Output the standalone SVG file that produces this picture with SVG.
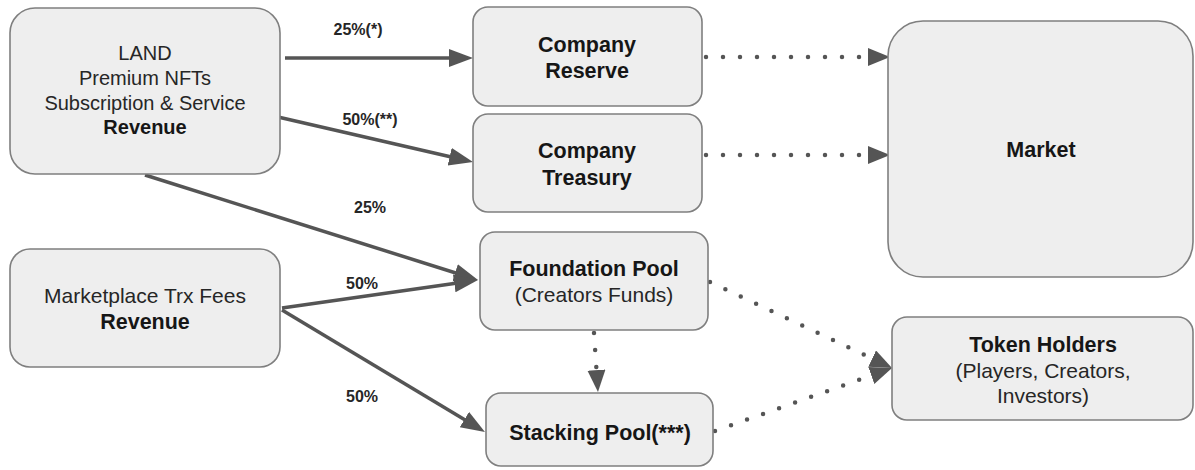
<svg xmlns="http://www.w3.org/2000/svg" width="1195" height="470" viewBox="0 0 1195 470">
<style>
.box{fill:#eeeeee;stroke:#7f7f7f;stroke-width:1.6}
.t{font-family:"Liberation Sans",Arial,sans-serif;font-size:21px;fill:#262626;text-anchor:middle}
.s{font-size:20px}
.b{font-weight:bold;fill:#161616;font-size:21.5px}
.lbl{font-family:"Liberation Sans",Arial,sans-serif;font-size:16px;font-weight:bold;fill:#262626;text-anchor:middle}
.solid{fill:none;stroke:#555555;stroke-width:3.5;marker-end:url(#ah)}
.dot{fill:none;stroke:#555555;stroke-width:4.5;stroke-linecap:round;stroke-dasharray:0 17;marker-end:url(#ah2)}
</style>
<defs>
<marker id="ah" markerUnits="userSpaceOnUse" markerWidth="26" markerHeight="20" refX="14" refY="9" orient="auto"><path d="M0,0 L24,9 L0,18 z" fill="#555555"/></marker>
<marker id="ah2" markerUnits="userSpaceOnUse" markerWidth="24" markerHeight="20" refX="12" refY="9" orient="auto"><path d="M0,0 L22,9 L0,18 z" fill="#555555"/></marker>
</defs>
<g id="connectors">
<path class="solid" d="M285,58 L463,58"/>
<path class="solid" d="M278,117 L463.3,159.8"/>
<path class="solid" d="M145,175 L468.5,277"/>
<path class="solid" d="M282,308 L468.1,281.4"/>
<path class="solid" d="M282,310 L476.4,426.8"/>
<path class="dot" d="M706,57 L880,57"/>
<path class="dot" d="M706,155 L880,155"/>
<path class="dot" d="M710,282 L883,363.7"/>
<path class="dot" d="M715,431 L882.6,371.4"/>
<path class="dot" d="M594,333 L597.3,382"/>
<text class="lbl" x="358" y="35">25%(*)</text>
<text class="lbl" x="370" y="125">50%(**)</text>
<text class="lbl" x="370" y="213">25%</text>
<text class="lbl" x="362" y="289">50%</text>
<text class="lbl" x="362" y="402">50%</text>
</g>
<g id="land">
<rect class="box" x="10" y="8" width="270" height="166" rx="25"/>
<text class="t s" x="145" y="60">LAND</text>
<text class="t s" x="145" y="85">Premium NFTs</text>
<text class="t s" x="145" y="110">Subscription &amp; Service</text>
<text class="t s b" x="145" y="134" style="font-size:20px">Revenue</text>
</g>
<g id="marketplace">
<rect class="box" x="10" y="249" width="270" height="118" rx="20"/>
<text class="t" x="145" y="303">Marketplace Trx Fees</text>
<text class="t b" x="145" y="329">Revenue</text>
</g>
<g id="reserve">
<rect class="box" x="473" y="7" width="229" height="99" rx="15"/>
<text class="t b" x="587" y="52">Company</text>
<text class="t b" x="587" y="78">Reserve</text>
</g>
<g id="treasury">
<rect class="box" x="473" y="114" width="229" height="98" rx="15"/>
<text class="t b" x="587" y="158">Company</text>
<text class="t b" x="587" y="185">Treasury</text>
</g>
<g id="foundation">
<rect class="box" x="480" y="232" width="228" height="98" rx="15"/>
<text class="t b" x="594" y="276">Foundation Pool</text>
<text class="t" x="594" y="302">(Creators Funds)</text>
</g>
<g id="stacking">
<rect class="box" x="486" y="393" width="227" height="73" rx="15"/>
<text class="t b" x="600" y="440">Stacking Pool(***)</text>
</g>
<g id="market">
<rect class="box" x="888" y="21" width="305" height="256" rx="35"/>
<text class="t b" x="1041" y="157">Market</text>
</g>
<g id="tokenholders">
<rect class="box" x="892" y="317" width="301" height="103" rx="15"/>
<text class="t b" x="1043" y="352">Token Holders</text>
<text class="t" x="1043" y="378">(Players, Creators,</text>
<text class="t" x="1043" y="403">Investors)</text>
</g>
</svg>
